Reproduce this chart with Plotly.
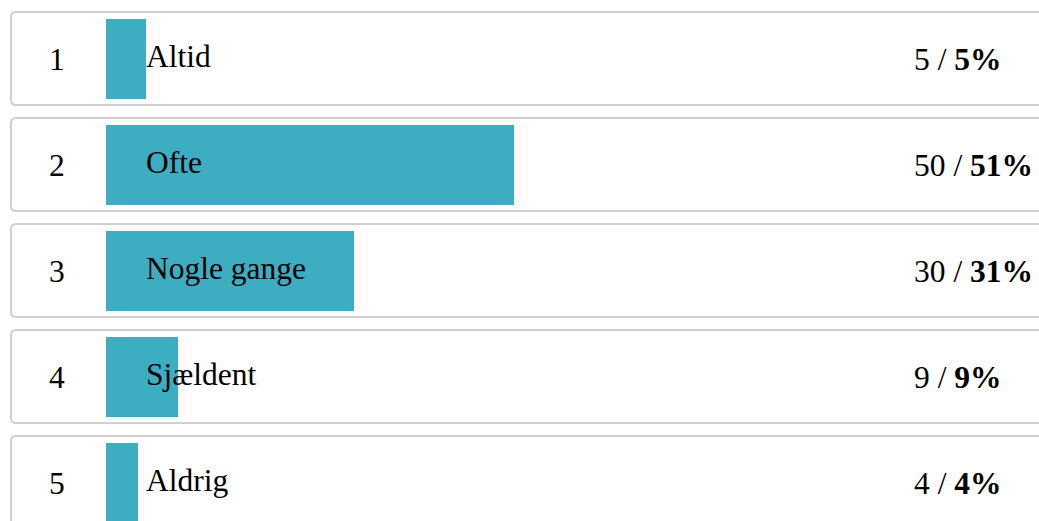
import plotly.graph_objects as go

ranks = [1, 2, 3, 4, 5]
categories = ["Altid", "Ofte", "Nogle gange", "Sjældent", "Aldrig"]
counts = [5, 50, 30, 9, 4]
percents = [5, 51, 31, 9, 4]

W, H = 1039, 521
BAR_X0 = 106.0      # pixel where 0% sits
PX_PER_PCT = 8.0    # pixels per percent
ROW0 = 58.5         # pixel centre of first row
ROW_STEP = 106.0    # pixels between rows

def px_to_x(px):
    return (px - BAR_X0) / PX_PER_PCT

def px_to_y(py):
    return (py - ROW0) / ROW_STEP

BAR_COLOR = "rgb(61,174,194)"
FONT = "Liberation Serif, Times New Roman, serif"
FS = 31.5

fig = go.Figure()
fig.add_trace(go.Bar(
    y=list(range(len(categories))), x=percents, orientation="h",
    base=0, width=80 / ROW_STEP,
    marker=dict(color=BAR_COLOR, line=dict(width=0)),
    hoverinfo="skip", showlegend=False,
))

shapes = []
annotations = []
r = 5.0
for i, (rk, cat, c, p) in enumerate(zip(ranks, categories, counts, percents)):
    top = ROW0 + ROW_STEP * i - 46.5
    bot = top + 93
    x0, x1 = 11, 1050
    rx = r / PX_PER_PCT
    ry = r / ROW_STEP
    X0, X1 = px_to_x(x0), px_to_x(x1)
    Y0, Y1 = px_to_y(top), px_to_y(bot)
    path = (f"M {X0+rx},{Y0} L {X1-rx},{Y0} Q {X1},{Y0} {X1},{Y0+ry} "
            f"L {X1},{Y1-ry} Q {X1},{Y1} {X1-rx},{Y1} L {X0+rx},{Y1} "
            f"Q {X0},{Y1} {X0},{Y1-ry} L {X0},{Y0+ry} Q {X0},{Y0} {X0+rx},{Y0} Z")
    shapes.append(dict(type="path", path=path, xref="x", yref="y",
                       line=dict(color="rgb(208,208,208)", width=2),
                       fillcolor="white", layer="below"))
    annotations.append(dict(x=px_to_x(57), y=i, text=str(rk), showarrow=False,
                            xanchor="center", yanchor="middle", yshift=-1,
                            font=dict(family=FONT, size=FS, color="black")))
    annotations.append(dict(x=px_to_x(144), y=i, text=cat, showarrow=False,
                            xanchor="left", yanchor="middle", yshift=2,
                            font=dict(family=FONT, size=FS, color="black")))
    annotations.append(dict(x=px_to_x(912), y=i, text=f"{c} / <b>{p}%</b>",
                            showarrow=False, xanchor="left", yanchor="middle", yshift=-1,
                            font=dict(family=FONT, size=FS, color="black")))

fig.update_layout(
    width=W, height=H,
    margin=dict(l=0, r=0, t=0, b=0),
    paper_bgcolor="white", plot_bgcolor="white",
    xaxis=dict(range=[px_to_x(0), px_to_x(W)], visible=False, fixedrange=True),
    yaxis=dict(range=[px_to_y(H), px_to_y(0)], visible=False, fixedrange=True),
    shapes=shapes, annotations=annotations,
    bargap=0,
)
fig.write_html(
    "out.html",
    config={"displayModeBar": False},
    post_script="document.body.style.margin='0';document.body.style.overflow='hidden';",
)
